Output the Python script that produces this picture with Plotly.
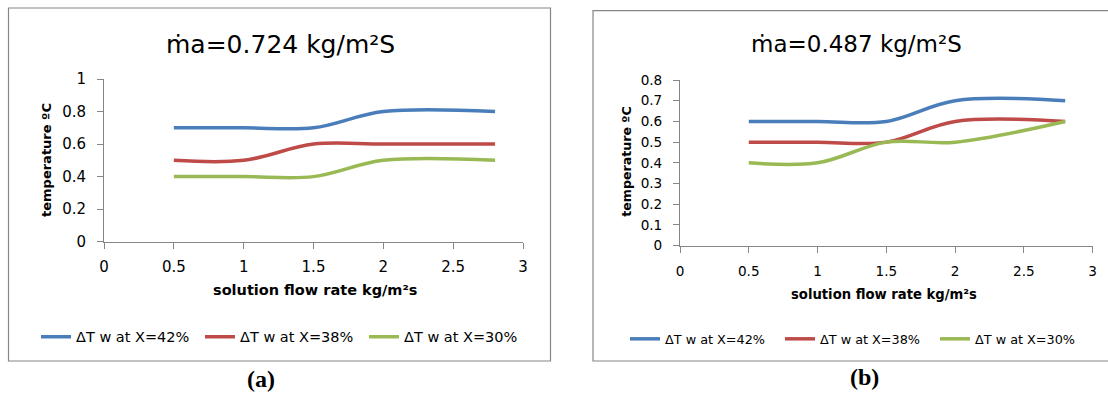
import plotly.graph_objects as go

W, H = 1108, 396

# solution flow rate (kg/m²s) at which the outlet water temperature rise was measured
flow_rate = [0.5, 1.0, 1.5, 2.0, 2.8]
series_names = ["ΔT w at X=42%", "ΔT w at X=38%", "ΔT w at X=30%"]

# (a) air mass flux ṁa = 0.724 kg/m²S
dt_a_x42 = [0.7, 0.7, 0.7, 0.8, 0.8]
dt_a_x38 = [0.5, 0.5, 0.6, 0.6, 0.6]
dt_a_x30 = [0.4, 0.4, 0.4, 0.5, 0.5]

# (b) air mass flux ṁa = 0.487 kg/m²S
dt_b_x42 = [0.6, 0.6, 0.6, 0.7, 0.7]
dt_b_x38 = [0.5, 0.5, 0.5, 0.6, 0.6]
dt_b_x30 = [0.4, 0.4, 0.5, 0.5, 0.6]

x_tick_vals = [0, 0.5, 1, 1.5, 2, 2.5, 3]
x_tick_text = ["0", "0.5", "1", "1.5", "2", "2.5", "3"]
y_tick_vals_a = [0, 0.2, 0.4, 0.6, 0.8, 1]
y_tick_text_a = ["0", "0.2", "0.4", "0.6", "0.8", "1"]
y_tick_vals_b = [0, 0.1, 0.2, 0.3, 0.4, 0.5, 0.6, 0.7, 0.8]
y_tick_text_b = ["0", "0.1", "0.2", "0.3", "0.4", "0.5", "0.6", "0.7", "0.8"]

titles = ["ṁa=0.724 kg/m²S", "ṁa=0.487 kg/m²S"]
panel_labels = ["(a)", "(b)"]
x_title = "solution flow rate kg/m²s"
y_title = "temperature ºC"

colors = ["#4A7EBB", "#BE4B48", "#98B954"]
AXIS_GREY = "#868686"
FONT = "DejaVu Sans"


def px(xp):
    return xp / W


def py(yp):
    return 1 - yp / H


fig = go.Figure()

panels = [
    ("x", "y", "legend", [dt_a_x42, dt_a_x38, dt_a_x30]),
    ("x2", "y2", "legend2", [dt_b_x42, dt_b_x38, dt_b_x30]),
]
for xa, ya, leg, data in panels:
    for name, vals, col in zip(series_names, data, colors):
        fig.add_trace(go.Scatter(
            x=flow_rate, y=vals, name=name, mode="lines",
            line=dict(color=col, width=3.5, shape="spline", smoothing=1.0),
            xaxis=xa, yaxis=ya, legend=leg, hoverinfo="skip",
        ))

axis_common = dict(
    showgrid=False, zeroline=False, showline=True, linecolor=AXIS_GREY,
    linewidth=1, ticks="outside", ticklen=6, tickcolor=AXIS_GREY,
    tickwidth=1, automargin=False,
)

fig.update_layout(
    width=W, height=H, autosize=False,
    margin=dict(l=0, r=0, t=0, b=0, autoexpand=False),
    paper_bgcolor="white", plot_bgcolor="white",
    showlegend=True,
    xaxis=dict(axis_common, domain=[px(104), px(523)], range=[0, 3],
               tickvals=x_tick_vals, ticktext=x_tick_text, anchor="y",
               tickfont=dict(family=FONT, size=15, color="#000"),
               ticklabelstandoff=5),
    yaxis=dict(axis_common, domain=[py(241.7), py(79)], range=[0, 1],
               tickvals=y_tick_vals_a, ticktext=y_tick_text_a, anchor="x",
               tickfont=dict(family=FONT, size=15, color="#000"),
               ticklabelstandoff=8),
    xaxis2=dict(axis_common, domain=[px(680), px(1092.7)], range=[0, 3],
                tickvals=x_tick_vals, ticktext=x_tick_text, anchor="y2",
                tickfont=dict(family=FONT, size=13.6, color="#000"),
                ticklabelstandoff=7),
    yaxis2=dict(axis_common, domain=[py(245.7), py(80)], range=[0, 0.8],
                tickvals=y_tick_vals_b, ticktext=y_tick_text_b, anchor="x2",
                tickfont=dict(family=FONT, size=13.6, color="#000"),
                ticklabelstandoff=8),
    legend=dict(orientation="h", x=px(36), y=py(336.7), xanchor="left",
                yanchor="middle", font=dict(family=FONT, size=14.5, color="#000"),
                entrywidth=119, entrywidthmode="pixels",
                bgcolor="rgba(0,0,0,0)"),
    legend2=dict(orientation="h", x=px(625), y=py(339), xanchor="left",
                 yanchor="middle", font=dict(family=FONT, size=12.8, color="#000"),
                 entrywidth=110, entrywidthmode="pixels",
                 bgcolor="rgba(0,0,0,0)"),
)

# chart frames
fig.add_shape(type="rect", xref="paper", yref="paper",
              x0=px(8.5), x1=px(550.5), y0=py(361), y1=py(8),
              line=dict(color=AXIS_GREY, width=1.2), fillcolor="rgba(0,0,0,0)")
fig.add_shape(type="rect", xref="paper", yref="paper",
              x0=px(593), x1=px(1130), y0=py(361), y1=py(10.7),
              line=dict(color=AXIS_GREY, width=1.2), fillcolor="rgba(0,0,0,0)")


def note(text, x, y, size, bold=False, angle=0, family=FONT):
    fig.add_annotation(
        text=f"<b>{text}</b>" if bold else text,
        x=px(x), y=py(y), xref="paper", yref="paper",
        xanchor="center", yanchor="middle", showarrow=False,
        textangle=angle, font=dict(family=family, size=size, color="#000"),
    )


# chart titles
note(titles[0], 280, 44, 25)
note(titles[1], 856, 44, 23)

# axis titles
note(x_title, 315, 290, 14.5, bold=True)
note(x_title, 884, 294, 13.2, bold=True)
note(y_title, 47, 160, 13, bold=True, angle=-90)
note(y_title, 627, 161.7, 12.6, bold=True, angle=-90)

# panel labels
note(panel_labels[0], 261, 379, 24, bold=True, family="Liberation Serif")
note(panel_labels[1], 864, 377, 24, bold=True, family="Liberation Serif")

fig.write_html("out.html")
